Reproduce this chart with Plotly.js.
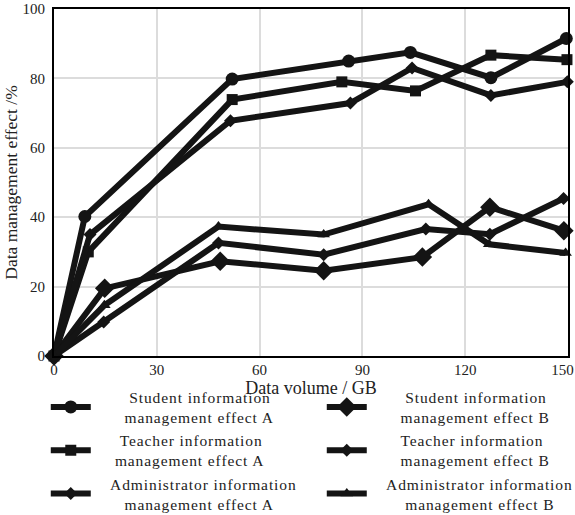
<!DOCTYPE html>
<html>
<head>
<meta charset="utf-8">
<script src="https://cdn.plot.ly/plotly-3.0.1.min.js"></script>
<style>
html,body{margin:0;padding:0;background:#fff;}
#chart{width:575px;height:515px;}
#chart .legendtext{letter-spacing:0.9px;}
</style>
</head>
<body>
<div id="chart"></div>
<script>
const S = "\u00a0";
function pad(n) { return S.repeat(n); }
// Series names
const names = [
  pad(7) + "Student information<br>" + pad(6) + "management effect A",
  pad(7) + "Student information<br>" + pad(6) + "management effect B",
  pad(5) + "Teacher information<br>" + pad(4) + "management effect A",
  pad(6) + "Teacher information<br>" + pad(6) + "management effect B",
  pad(3) + "Administrator information<br>" + pad(6) + "management effect A",
  pad(3) + "Administrator information<br>" + pad(7) + "management effect B"
];
// Data volume (GB) per series
const xStudentA = [0, 9, 52, 86, 104, 127.5, 149.5];
const xTeacherA = [0, 10, 52, 84, 105.5, 127.5, 149.7];
const xAdminA   = [0, 10.5, 51.5, 86.5, 104.5, 127.5, 149.8];
const xStudentB = [0, 14.8, 48.5, 78.7, 107.5, 127.2, 148.8];
const xTeacherB = [0, 14.5, 48, 78.7, 108.5, 127.2, 148.7];
const xAdminB   = [0, 14.7, 48, 78.7, 109.3, 127, 149.3];
// Data management effect (%)
const yStudentA = [0, 40.2, 79.8, 85, 87.5, 80.2, 91.5];
const yTeacherA = [0, 30, 73.9, 79, 76.4, 86.7, 85.4];
const yAdminA   = [0, 35, 67.8, 72.9, 83, 75.1, 79];
const yStudentB = [0, 19.5, 27.3, 24.6, 28.5, 42.9, 36.1];
const yTeacherB = [0, 9.8, 32.6, 29.2, 36.6, 35.1, 45.4];
const yAdminB   = [0, 14.6, 37.3, 35, 43.7, 32.2, 29.7];
const xTicks = [0, 30, 60, 90, 120, 150];
const xTickText = ["0", "30", "60", "90", "120", "150" + pad(3)];
const yTicks = [0, 20, 40, 60, 80, 100];

const col = "#141414";
function tr(x, y, name, symbol, size, rank) {
  return {x: x, y: y, name: name, type: "scatter", mode: "lines+markers", cliponaxis: false,
    line: {color: col, width: 6}, marker: {color: col, symbol: symbol, size: size},
    legendrank: rank};
}
const data = [
  tr(xStudentA, yStudentA, names[0], "circle", 13, 1),
  tr(xStudentB, yStudentB, names[1], "diamond", 15, 2),
  tr(xTeacherA, yTeacherA, names[2], "square", 11, 3),
  tr(xTeacherB, yTeacherB, names[3], "diamond", 10, 4),
  tr(xAdminA, yAdminA, names[4], "diamond", 10, 5),
  tr(xAdminB, yAdminB, names[5], "triangle-up", 11, 6)
];
const font = {family: "Liberation Serif, Times New Roman, serif", color: "#222", size: 16};
const layout = {
  width: 575, height: 515,
  margin: {l: 54, r: 7, t: 9, b: 159, autoexpand: false},
  paper_bgcolor: "#fff", plot_bgcolor: "#fff",
  font: font,
  showlegend: true,
  xaxis: {range: [0, 150], tickvals: xTicks, ticktext: xTickText, ticks: "", showgrid: true, gridcolor: "#dcdcdc", gridwidth: 2,
    zeroline: false, showline: true, linecolor: "#000", linewidth: 2, mirror: true, automargin: false,
    ticklabelstandoff: -1,
    ticklabeloverflow: "allow", tickfont: {size: 15}, title: {text: "Data volume / GB", font: {size: 18}, standoff: 0}},
  yaxis: {range: [0, 100], tickvals: yTicks, ticks: "", showgrid: true, gridcolor: "#dcdcdc", gridwidth: 2,
    zeroline: false, showline: true, linecolor: "#000", linewidth: 2, mirror: true, automargin: false,
    ticklabelstandoff: 4,
    ticklabeloverflow: "allow", tickfont: {size: 15},
    title: {text: pad(5) + "Data management effect /%", font: {size: 17.5}, standoff: 0}},
  legend: {orientation: "h", x: -0.016, xanchor: "left", y: -0.07, yanchor: "top",
    entrywidth: 221, entrywidthmode: "pixels", font: {size: 15.5}, traceorder: "normal",
    bgcolor: "rgba(0,0,0,0)", itemwidth: 40, tracegroupgap: 0}
};
Plotly.newPlot("chart", data, layout, {displayModeBar: false, staticPlot: true});
</script>
</body>
</html>
